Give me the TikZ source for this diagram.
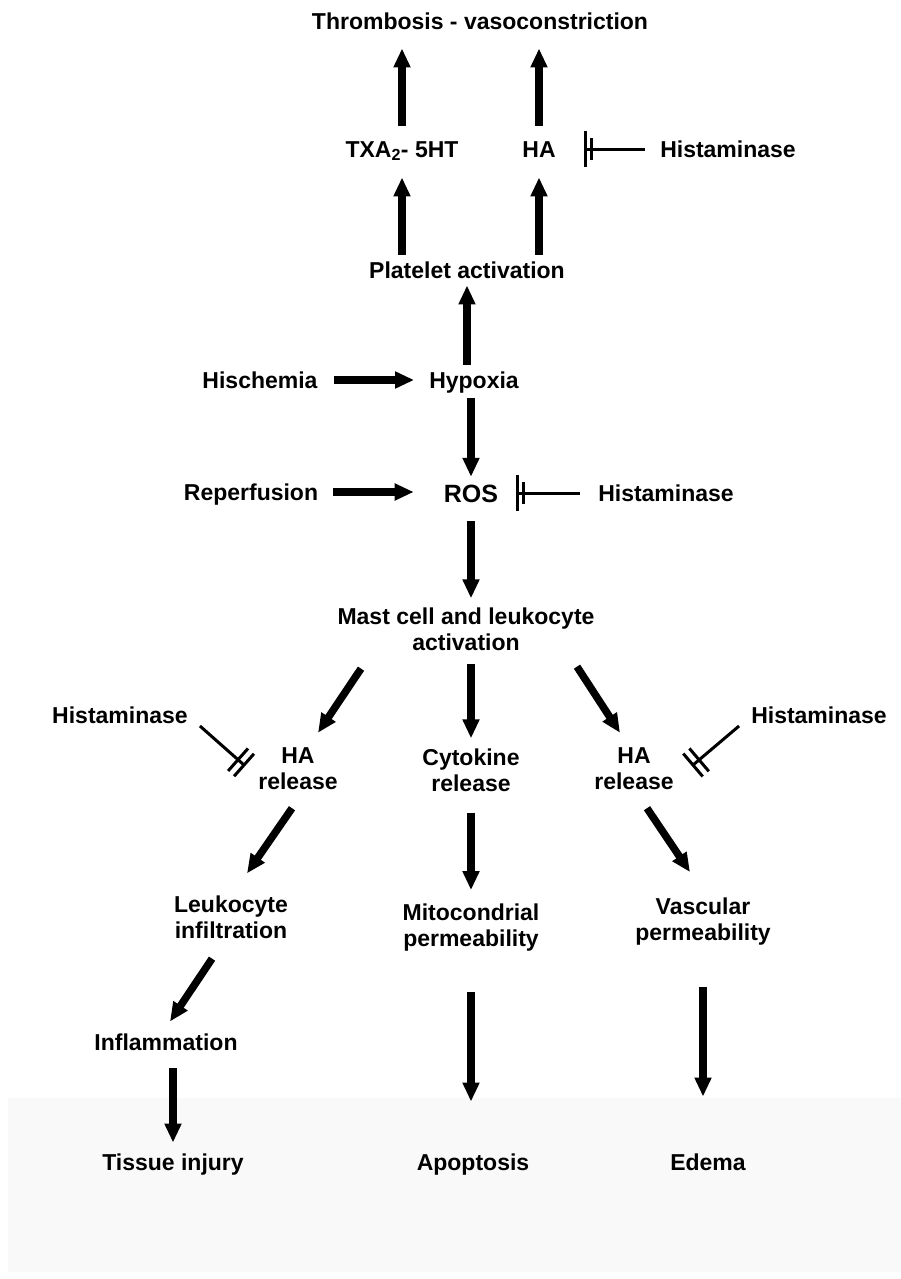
\documentclass[tikz,border=0pt]{standalone}
\usepackage{fontspec}
\setmainfont{Liberation Sans}
\usetikzlibrary{arrows.meta}
\definecolor{panelgray}{HTML}{F9F9F9}
\tikzset{
  term/.style={
    font=\bfseries\fontsize{23}{26}\selectfont,
    inner sep=0pt,
    text height=16.5pt,
    text depth=0pt
  },
  big term/.style={
    term,
    font=\bfseries\fontsize{25}{28}\selectfont,
    text height=18pt
  },
  term2/.style={
    font=\bfseries\fontsize{23}{26}\selectfont,
    inner sep=0pt,
    align=center
  },
  flow/.style={
    -{Triangle[length=19pt,width=16pt]},
    line width=7.5pt
  },
  block/.style={
    -{Bar[width=22pt,sep=3pt]Bar[width=36pt]},
    line width=3pt
  },
  block diag/.style={
    -{Bar[width=30pt,sep=5pt]Bar[width=30pt]},
    line width=3pt
  }
}
\begin{document}
\begin{tikzpicture}[x=1pt,y=-1pt]
  \useasboundingbox (0,0) rectangle (901,1279);
  \fill[panelgray] (8,1098) rectangle (901,1272);

  % top part
  \node[term] (thromb) at (480,21)  {Thrombosis - vasoconstriction};
  \node[term] (txa)    at (402,149) {TXA\textsubscript{2}- 5HT};
  \node[term] (ha)     at (539,149) {HA};
  \node[term] (histA)  at (728,149) {Histaminase};
  \node[term] (plat)   at (467,270) {Platelet activation};
  \node[term] (hisch)  at (260,380) {Hischemia};
  \node[term] (hypox)  at (474,380) {Hypoxia};
  \node[term] (reperf) at (251,492) {Reperfusion};
  \node[big term] (ros) at (471,493) {ROS};
  \node[term] (histB)  at (666,493) {Histaminase};
  \node[term2] (mast)  at (466,629) {Mast cell and leukocyte\\activation};

  % three branches
  \node[term] (histL)  at (120,715) {Histaminase};
  \node[term] (histR)  at (819,715) {Histaminase};
  \node[term2] (haL)   at (298,769) {HA\\release};
  \node[term2] (cyto)  at (471,770) {Cytokine\\release};
  \node[term2] (haR)   at (634,769) {HA\\release};
  \node[term2] (leuk)  at (231,917) {Leukocyte\\infiltration};
  \node[term2] (mito)  at (471,928) {Mitocondrial\\permeability};
  \node[term2] (vasc)  at (703,922) {Vascular\\permeability};
  \node[term] (infl)   at (166,1042) {Inflammation};
  \node[term] (tissue) at (173,1162) {Tissue injury};
  \node[term] (apop)   at (473,1162) {Apoptosis};
  \node[term] (edema)  at (708,1162) {Edema};

  \draw[flow,shorten <=15pt,shorten >=19pt] (txa.north) -- (thromb.south -| txa.north);
  \draw[flow,shorten <=15pt,shorten >=19pt] (ha.north) -- (thromb.south -| ha.north);
  \draw[flow,shorten <=7pt,shorten >=20pt] (plat.north -| txa.south) -- (txa.south);
  \draw[flow,shorten <=7pt,shorten >=20pt] (plat.north -| ha.south) -- (ha.south);
  \draw[flow,shorten <=7pt,shorten >=7pt] (hypox.north -| plat.south) -- (plat.south);
  \draw[flow,shorten <=10pt,shorten >=7pt] (hypox.south -| ros.north) -- (ros.north);
  \draw[flow,shorten <=16pt,shorten >=15pt] (hisch) -- (hypox);
  \draw[flow,shorten <=15pt,shorten >=30pt] (reperf.east) -- (reperf.east -| ros.west);
  \draw[flow,shorten <=19pt,shorten >=9pt] (ros.south) -- (mast.north -| ros.south);

  \draw[flow] ([xshift=-105pt,yshift=-18pt]mast.south) -- ([xshift=20pt,yshift=15pt]haL.north);
  \draw[flow,shorten <=13pt,shorten >=10pt] (mast.south -| cyto.north) -- (cyto.north);
  \draw[flow] ([xshift=111pt,yshift=-16pt]mast.south) -- ([xshift=-14pt,yshift=15pt]haR.north);

  \draw[flow] ([xshift=-6pt,yshift=-18pt]haL.south) -- ([xshift=16pt,yshift=22pt]leuk.north);
  \draw[flow,shorten <=21pt,shorten >=14pt] (cyto.south) -- (mito.north);
  \draw[flow] ([xshift=13pt,yshift=-18pt]haR.south) -- ([xshift=-13pt,yshift=26pt]vasc.north);

  \draw[flow] ([xshift=-19pt,yshift=-20pt]leuk.south) -- ([xshift=4pt,yshift=12pt]infl.north);
  \draw[flow,shorten <=18pt,shorten >=11pt] (infl.south -| tissue.north) -- (tissue.north);
  \draw[flow,shorten <=40pt,shorten >=52pt] (mito.south) -- (apop.north -| mito.south);
  \draw[flow,shorten <=41pt,shorten >=57pt] (vasc.south) -- (edema.north -| vasc.south);

  % histaminase blocks
  \draw[block,shorten <=15pt,shorten >=28pt] (histA) -- (ha);
  \draw[block,shorten <=18pt,shorten >=18pt] (histB) -- (ros);
  \draw[block diag] ([xshift=12pt,yshift=-11pt]histL.east) -- ([xshift=-13pt,yshift=3pt]haL.west);
  \draw[block diag] ([xshift=-12pt,yshift=-11pt]histR.west) -- ([xshift=18pt,yshift=3pt]haR.east);
\end{tikzpicture}
\end{document}
